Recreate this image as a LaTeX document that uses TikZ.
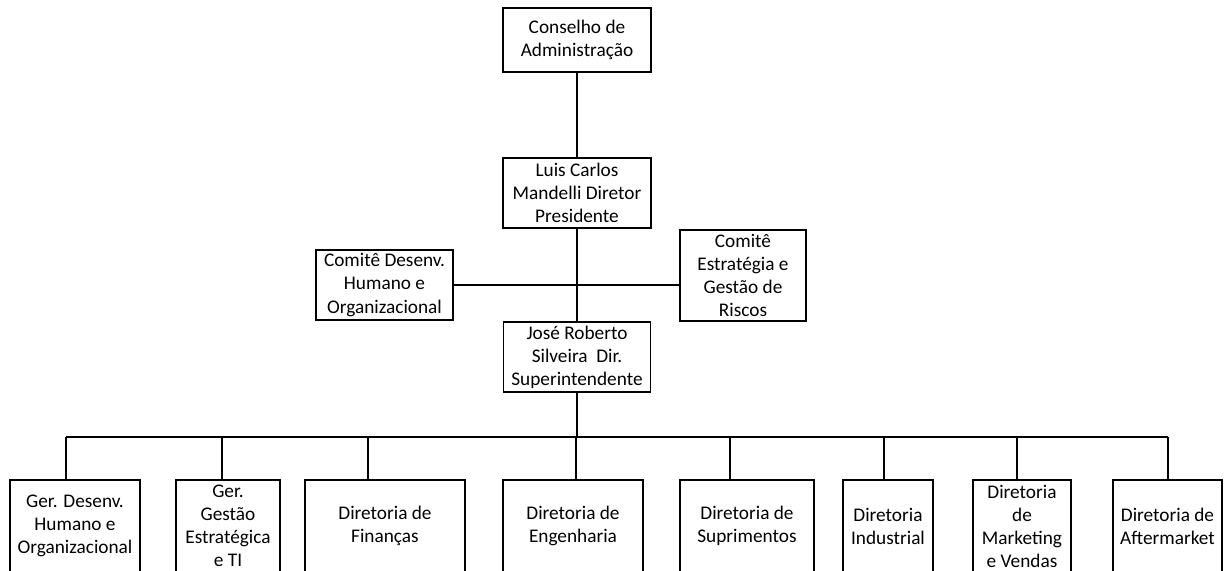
\documentclass[tikz,border=0pt]{standalone}
\usepackage{fontspec}
\setmainfont{Carlito}
\usetikzlibrary{positioning}

\begin{document}
\begin{tikzpicture}[x=0.56pt,y=-0.56pt]
  \tikzset{BoxStyle/.style = {
    shape         = rectangle,
    draw          = black,
    fill          = white,
    line width    = 1pt,
    text          = black,
    align         = center,
    inner sep     = 0pt,
    outer sep     = 0pt,
    font          = \fontsize{10.8}{12.9}\selectfont
    }
  }
  \tikzset{BoxSize/.style 2 args = {
    minimum width  = #1*0.56pt,
    minimum height = #2*0.56pt
    }
  }
  \tikzset{LineStyle/.style = {
    draw          = black,
    line width    = 1.1pt
    }
  }
  \useasboundingbox (0,0) rectangle (1224,570);
  \clip (0,0) rectangle (1224,570);

	\node[BoxStyle,BoxSize={148}{64}](CA) at (577,40) {Conselho de\\Administração};
	\node[BoxStyle,BoxSize={148}{70}](DP) at (577,193) {Luis Carlos\\Mandelli Diretor\\Presidente};
	\node[BoxStyle,BoxSize={137}{70}](CDH) at (384.5,285) {Comitê Desenv.\\Humano e\\Organizacional};
	\node[BoxStyle,BoxSize={126}{91}](CEG) at (743,275.5) {Comitê\\Estratégia e\\Gestão de\\Riscos};
	\node[BoxStyle,BoxSize={147}{70}](DS) at (577,357) {José Roberto\\Silveira\ \ Dir.\\Superintendente};

	\node[BoxStyle,BoxSize={130}{92}](B1) at (75,526) {Ger. Desenv.\\Humano e\\Organizacional};
	\node[BoxStyle,BoxSize={104}{92}](B2) at (228,526) {Ger.\\Gestão\\Estratégica\\e TI};
	\node[BoxStyle,BoxSize={160}{92}](B3) at (385,526) {Diretoria de\\Finanças};
	\node[BoxStyle,BoxSize={140}{92}](B4) at (573,526) {Diretoria de\\Engenharia};
	\node[BoxStyle,BoxSize={134}{92}](B5) at (747,526) {Diretoria de\\Suprimentos};
	\node[BoxStyle,BoxSize={90}{92}](B6) at (888,526) {Diretoria\\Industrial};
	\node[BoxStyle,BoxSize={98}{92}](B7) at (1022,526) {Diretoria\\de\\Marketing\\e Vendas};
	\node[BoxStyle,BoxSize={109}{92}](B8) at (1167.5,526) {Diretoria de\\Aftermarket};

	\coordinate (bus) at (577,437);
	\coordinate (d1) at (66,437);
	\coordinate (d2) at (222,437);
	\coordinate (d3) at (368,437);
	\coordinate (d4) at (576,437);
	\coordinate (d5) at (730,437);
	\coordinate (d6) at (884,437);
	\coordinate (d7) at (1017,437);
	\coordinate (d8) at (1168,437);

	\draw[LineStyle](CA) -- (DP);
	\draw[LineStyle](DP) -- (DS);
	\draw[LineStyle](CDH.east) -- (CEG.west |- CDH.east);
	\draw[LineStyle](DS.south -| bus) -- (bus);
	\draw[LineStyle](d1) -- (d8);
	\draw[LineStyle](d1) -- (d1 |- B1.north);
	\draw[LineStyle](d2) -- (d2 |- B2.north);
	\draw[LineStyle](d3) -- (d3 |- B3.north);
	\draw[LineStyle](d4) -- (d4 |- B4.north);
	\draw[LineStyle](d5) -- (d5 |- B5.north);
	\draw[LineStyle](d6) -- (d6 |- B6.north);
	\draw[LineStyle](d7) -- (d7 |- B7.north);
	\draw[LineStyle](d8) -- (d8 |- B8.north);
\end{tikzpicture}
\end{document}
